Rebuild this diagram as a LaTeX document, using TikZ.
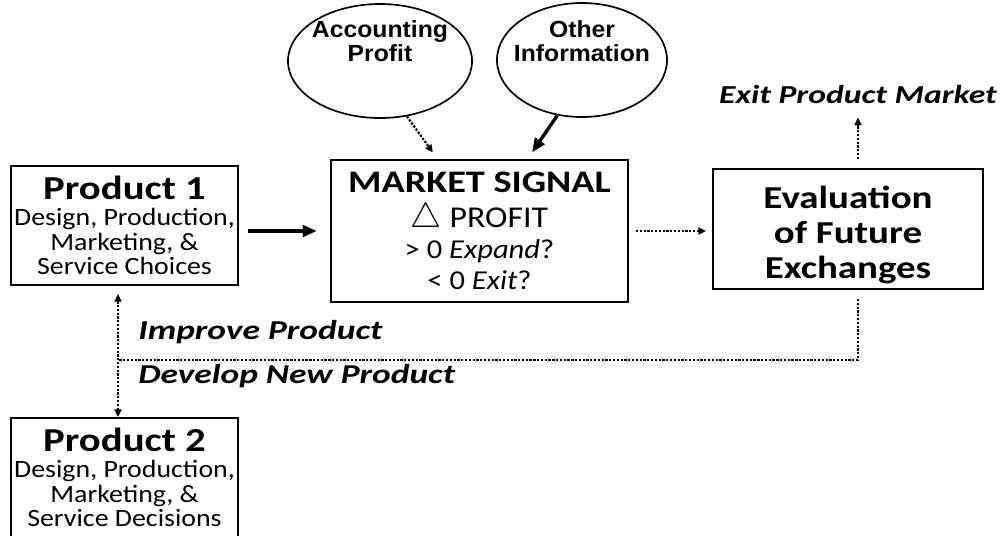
\documentclass[tikz,border=0pt]{standalone}
\usepackage{fontspec}
\setmainfont{Carlito}[FakeStretch=1.12,
  BoldFeatures={FakeStretch=1.22},
  BoldItalicFeatures={FakeStretch=1.3}]
\newfontfamily\arialfont{Liberation Sans}[FakeStretch=1.06]
\usetikzlibrary{arrows.meta,positioning,shapes.geometric}

\tikzset{
  box/.style={draw, line width=1.4pt, inner sep=0pt, align=center},
  bubble/.style={draw, ellipse, line width=1.2pt, inner sep=0pt},
  bubbletext/.style={inner sep=0pt, align=center,
    font=\arialfont\bfseries\fontsize{16.6}{16.8}\selectfont},
  bigarrow/.style={-{Triangle[length=10pt,width=8pt]}, line width=2.4pt},
  dotline/.style={line width=1.5pt, dash pattern=on 1.6pt off 1.1pt},
  dotarrow/.style={dotline, -{Triangle[length=5.5pt,width=5pt]}},
  dotboth/.style={dotline, {Triangle[length=5.5pt,width=5pt]}-{Triangle[length=5.5pt,width=5pt]}},
  cue/.style={inner sep=0pt, font=\bfseries\itshape\fontsize{19.4}{19}\selectfont},
}
\newcommand{\titlefont}{\bfseries\fontsize{23.8}{17.5}\selectfont}
\newcommand{\smallfont}{\mdseries\fontsize{17.7}{17.5}\selectfont}

\begin{document}
\begin{tikzpicture}[x=0.025cm, y=-0.025cm]
  \useasboundingbox (0,0) rectangle (1005,535);

  \node[box, font=\fontsize{17.7}{17.5}\selectfont, minimum width=5.675cm, minimum height=2.975cm] (prod1) at (124.5,225.5)
    {{\titlefont Product 1}\\[1pt]
     {\smallfont Design, Production,}\\ {\smallfont Marketing, \&}\\ {\smallfont Service Choices}};
  \node[box, font=\fontsize{19.4}{22}\selectfont, minimum width=7.425cm, minimum height=3.55cm] (signal) at (479.5,231)
    {{\bfseries\fontsize{22.3}{22}\selectfont MARKET SIGNAL}\\[3pt]
     {\fontsize{21.5}{22}\selectfont{\fontsize{25}{25}\selectfont$\bigtriangleup$} PROFIT}\\
     {> 0 \emph{Expand}?}\\
     {< 0 \emph{Exit}?}};
  \node[box, font=\bfseries\fontsize{22.7}{25}\selectfont, minimum width=6.75cm, minimum height=3cm] (eval) at (848,229)
    {\rule{0pt}{24pt}Evaluation\\ of Future\\ Exchanges};
  \node[box, font=\fontsize{17.7}{17.5}\selectfont, minimum width=5.675cm, minimum height=2.975cm] (prod2) at (124.5,477.5)
    {{\titlefont Product 2}\\[1pt]
     {\smallfont Design, Production,}\\ {\smallfont Marketing, \&}\\ {\smallfont Service Decisions}};

  \node[bubble, minimum width=4.6cm, minimum height=2.85cm] (acct) at (380,61) {};
  \node[bubble, minimum width=4.25cm, minimum height=2.85cm] (other) at (582,60) {};
  \node[bubbletext] (accttext) at (380,41) {Accounting\\Profit};
  \node[bubbletext] (othertext) at (582,41) {Other\\Information};

  \node[cue, anchor=base, font=\bfseries\itshape\fontsize{18.4}{18}\selectfont] (exit) at (858,103) {Exit Product Market};
  \node[cue, anchor=base west] (improve) at (138,339) {Improve Product};
  \node[cue, anchor=base west] (develop) at (138,383) {Develop New Product};
  \coordinate (turn) at (118,360);

  \draw[dotarrow, shorten >=0.2cm] (acct.-64) -- ([xshift=-1.05cm]signal.north);
  \draw[bigarrow, shorten >=0.2cm] (other.-114) -- ([xshift=1.2cm]signal.north);
  \draw[bigarrow, shorten <=0.225cm, shorten >=0.325cm] (prod1.east |- signal.west) -- (signal.west);
  \draw[dotarrow, shorten <=0.175cm, shorten >=0.15cm] (signal.east) -- (eval.west |- signal.east);
  \draw[dotarrow, shorten <=0.225cm, shorten >=0.35cm] (exit.south |- eval.north) -- (exit.south);
  \draw[dotline, shorten <=0.225cm] (exit.south |- eval.south) -- (exit.south |- turn) -- (turn);
  \draw[dotboth, shorten <=0.2cm] (turn |- prod1.south) -- (turn |- prod2.north);
\end{tikzpicture}
\end{document}
